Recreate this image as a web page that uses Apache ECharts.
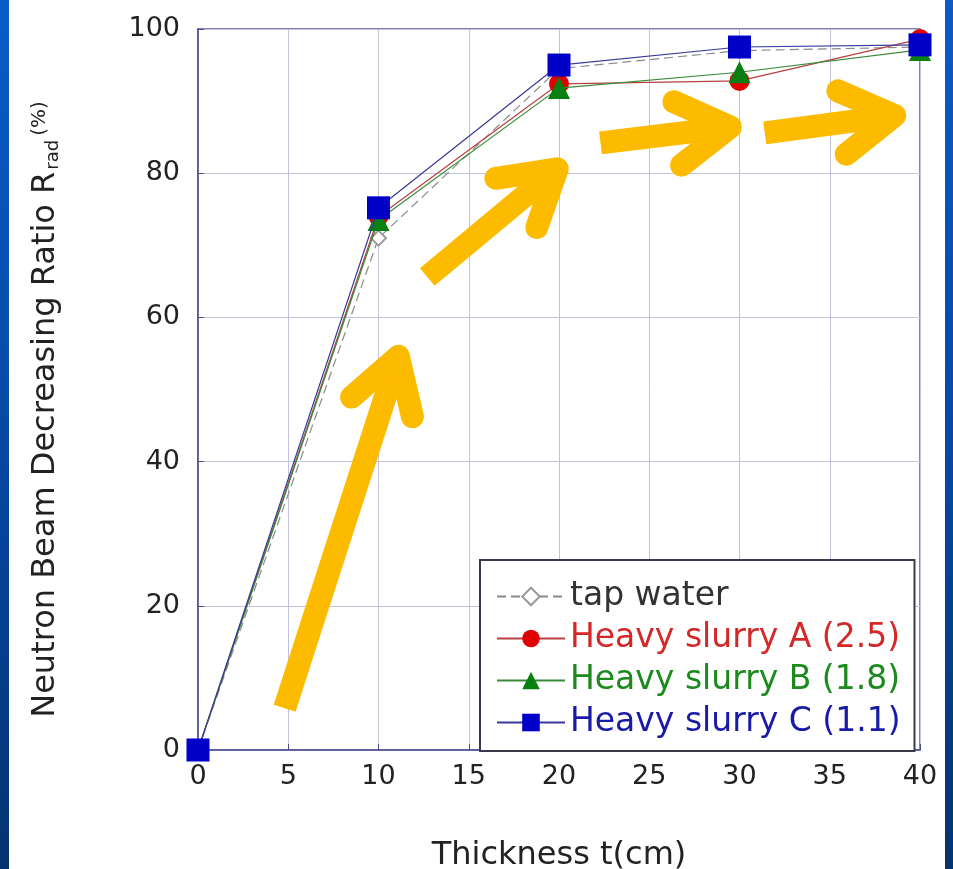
<!DOCTYPE html>
<html>
<head>
<meta charset="utf-8">
<script src="https://cdn.jsdelivr.net/npm/echarts@6/dist/echarts.min.js"></script>
<style>
  html, body { margin: 0; padding: 0; }
  body { width: 953px; height: 869px; position: relative; overflow: hidden;
         background: linear-gradient(to bottom, #0a5cc6 0%, #0647a0 55%, #05336f 100%); }
  #paper { position: absolute; left: 9px; top: 0; width: 936px; height: 869px; background: #fff; }
  #chart { position: absolute; left: 0; top: 0; width: 953px; height: 869px; }
</style>
</head>
<body>
<div id="paper"></div>
<div id="chart"></div>
<script>
const thickness = [0, 10, 20, 30, 40];
const tapWater = [0, 71, 94.5, 97, 97.5];
const slurryA = [0, 74, 92.4, 92.8, 98.6];
const slurryB = [0, 73.5, 91.8, 94, 97.1];
const slurryC = [0, 75.2, 95, 97.5, 97.8];

// annotation arrows: [startX, startY, tipX, tipY] in data units
const arrows = [
  [4.8, 5.8, 11.1, 54.6],
  [12.7, 65.6, 19.9, 80.6],
  [22.3, 84.2, 29.5, 86.4],
  [31.4, 85.6, 38.6, 88.0]
];

const font = 'DejaVu Sans';
const pairs = values => thickness.map((t, i) => [t, values[i]]);

function renderArrow(params, api) {
  const s = api.coord([api.value(0), api.value(1)]);
  const t = api.coord([api.value(2), api.value(3)]);
  const dx = s[0] - t[0], dy = s[1] - t[1];
  const len = Math.hypot(dx, dy);
  const ux = dx / len, uy = dy / len;
  const arm = 62, ang = 31 * Math.PI / 180;
  const rot = a => [t[0] + arm * (ux * Math.cos(a) - uy * Math.sin(a)),
                    t[1] + arm * (ux * Math.sin(a) + uy * Math.cos(a))];
  const style = { stroke: '#fdbb00', lineWidth: 23, fill: null };
  return {
    type: 'group',
    children: [
      { type: 'line', shape: { x1: s[0], y1: s[1], x2: t[0] + ux * 6, y2: t[1] + uy * 6 },
        style: Object.assign({ lineCap: 'butt' }, style) },
      { type: 'polyline', shape: { points: [rot(ang), t, rot(-ang)] },
        style: Object.assign({ lineCap: 'round', lineJoin: 'round' }, style) }
    ]
  };
}

const chart = echarts.init(document.getElementById('chart'), null, { renderer: 'canvas' });

chart.setOption({
  backgroundColor: 'transparent',
  animation: false,
  textStyle: { fontFamily: font },
  grid: {
    left: 198, right: 33, top: 29, bottom: 119,
    outerBoundsMode: 'none',
    show: true, borderColor: '#5c5c98', borderWidth: 1.5
  },
  legend: {
    left: 480,
    top: 560,
    orient: 'vertical',
    itemWidth: 68,
    itemHeight: 22,
    itemGap: 9,
    padding: [20, 14, 12, 16],
    backgroundColor: '#fff',
    borderColor: '#3a3a4a',
    borderWidth: 2,
    borderRadius: 0,
    textStyle: { fontSize: 33, lineHeight: 30, fontFamily: font },
    data: [
      { name: 'tap water', textStyle: { color: '#333333' } },
      { name: 'Heavy slurry A (2.5)', textStyle: { color: '#d42828' } },
      { name: 'Heavy slurry B (1.8)', textStyle: { color: '#1d8a1d' } },
      { name: 'Heavy slurry C (1.1)', textStyle: { color: '#1a1aa8' } }
    ]
  },
  xAxis: {
    type: 'value',
    min: 0,
    max: 40,
    interval: 5,
    name: 'Thickness t(cm)',
    nameLocation: 'middle',
    nameGap: 90,
    nameTextStyle: { fontSize: 32, color: '#222', fontFamily: font },
    axisLine: { onZero: false, lineStyle: { color: '#4c4c8c', width: 1.5 } },
    axisTick: { inside: true, length: 6, lineStyle: { color: '#4c4c8c' } },
    axisLabel: { fontSize: 27, color: '#222', margin: 13 },
    splitLine: { show: true, lineStyle: { color: '#c2c2dc', width: 1 } }
  },
  yAxis: {
    type: 'value',
    min: 0,
    max: 100,
    interval: 20,
    name: 'Neutron Beam Decreasing Ratio R{sub|rad}{sup|(%)}',
    nameLocation: 'middle',
    nameGap: 136,
    nameTextStyle: {
      fontSize: 32,
      color: '#222',
      fontFamily: font,
      padding: [0, 40, 0, 0],
      rich: {
        sub: { fontSize: 18, color: '#222', fontFamily: font, verticalAlign: 'bottom', padding: [14, 0, 0, 2] },
        sup: { fontSize: 20, color: '#222', fontFamily: font, verticalAlign: 'top', padding: [0, 0, 12, 4] }
      }
    },
    axisLine: { show: true, onZero: false, lineStyle: { color: '#4c4c8c', width: 1.5 } },
    axisTick: { show: true, inside: true, length: 6, lineStyle: { color: '#4c4c8c' } },
    axisLabel: { fontSize: 27, color: '#222', margin: 18 },
    splitLine: { show: true, lineStyle: { color: '#c2c2dc', width: 1 } }
  },
  series: [
    {
      name: 'tap water',
      type: 'line',
      data: pairs(tapWater),
      symbol: 'emptyDiamond',
      symbolSize: 15,
      itemStyle: { color: '#9a9a9a', borderWidth: 1.2 },
      lineStyle: { color: '#8a8a8a', width: 1.2, type: [9, 5] },
      z: 2
    },
    {
      name: 'Heavy slurry A (2.5)',
      type: 'line',
      data: pairs(slurryA),
      symbol: 'circle',
      symbolSize: 20,
      itemStyle: { color: '#e00000' },
      lineStyle: { color: '#b84040', width: 1.2 },
      z: 3
    },
    {
      name: 'Heavy slurry B (1.8)',
      type: 'line',
      data: pairs(slurryB),
      symbol: 'triangle',
      symbolSize: 22,
      itemStyle: { color: '#0a8012' },
      lineStyle: { color: '#3a8a3a', width: 1.2 },
      z: 4
    },
    {
      name: 'Heavy slurry C (1.1)',
      type: 'line',
      data: pairs(slurryC),
      symbol: 'rect',
      symbolSize: 23,
      itemStyle: { color: '#0000c8' },
      lineStyle: { color: '#3a3a9a', width: 1.2 },
      z: 5
    },
    {
      name: 'arrows',
      type: 'custom',
      renderItem: renderArrow,
      data: arrows,
      encode: { x: [0, 2], y: [1, 3] },
      silent: true,
      z: 10
    }
  ]
});
</script>
</body>
</html>
